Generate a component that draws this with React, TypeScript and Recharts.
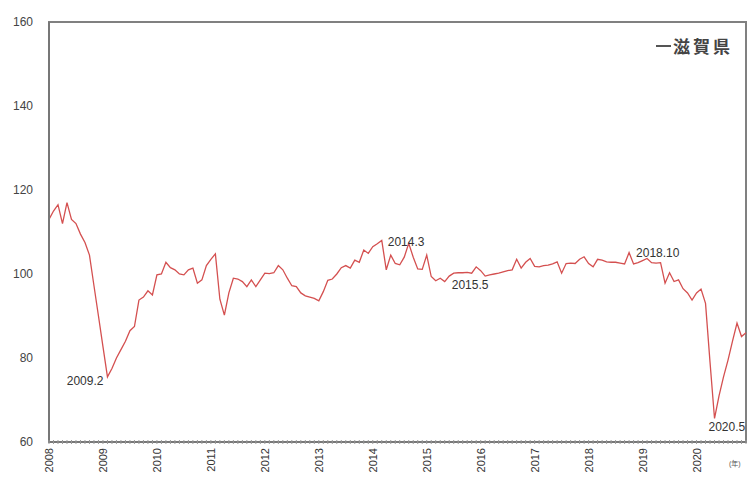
import { LabelList, Line, LineChart, ReferenceArea, XAxis, YAxis } from "recharts";

const years = [2008, 2009, 2010, 2011, 2012, 2013, 2014, 2015, 2016, 2017, 2018, 2019, 2020];

// 滋賀県 monthly index, Jan..Dec
const shiga2008 = [113, 115, 116.5, 112, 117, 113, 112, 109.5, 107.5, 104.5, 97.2, 90];
const shiga2009 = [82.7, 75.5, 77.5, 80, 82, 84, 86.5, 87.5, 93.8, 94.5, 96, 95];
const shiga2010 = [99.8, 100, 102.8, 101.5, 101, 100, 99.8, 101, 101.4, 97.8, 98.6, 102];
const shiga2011 = [103.5, 104.8, 94, 90.2, 95.5, 99, 98.8, 98.2, 97, 98.6, 97, 98.6];
const shiga2012 = [100.2, 100.1, 100.3, 102, 101, 99, 97.2, 97, 95.5, 94.8, 94.5, 94.2];
const shiga2013 = [93.6, 95.8, 98.5, 98.8, 100, 101.5, 102, 101.4, 103.3, 102.8, 105.7, 104.9];
const shiga2014 = [106.5, 107.2, 108, 101, 104.5, 102.5, 102.2, 104, 107.3, 104, 101.2, 101.1];
const shiga2015 = [104.5, 99.4, 98.4, 99, 98.2, 99.5, 100.2, 100.3, 100.3, 100.4, 100.2, 101.7];
const shiga2016 = [100.8, 99.5, 99.8, 100, 100.2, 100.5, 100.8, 101, 103.5, 101.4, 102.8, 103.7];
const shiga2017 = [101.8, 101.7, 102, 102.1, 102.4, 102.9, 100.2, 102.5, 102.6, 102.5, 103.5, 104.1];
const shiga2018 = [102.5, 101.7, 103.5, 103.3, 102.9, 102.8, 102.8, 102.6, 102.4, 105.1, 102.4, 102.7];
const shiga2019 = [103.2, 103.7, 102.7, 102.6, 102.7, 97.8, 100.3, 98.2, 98.6, 96.5, 95.5, 93.8];
const shiga2020 = [95.5, 96.4, 93, 79, 65.6, 71, 75.5, 79.5, 84, 88.3, 85.1, 86];

const shigaByYear = [
  shiga2008, shiga2009, shiga2010, shiga2011, shiga2012, shiga2013, shiga2014,
  shiga2015, shiga2016, shiga2017, shiga2018, shiga2019, shiga2020,
];

const yTicks = [60, 80, 100, 120, 140, 160];
const markedMonths = ["2009.2", "2014.3", "2015.5", "2018.10", "2020.5"];

const data = years.flatMap((yr, yi) =>
  shigaByYear[yi].map((v, m) => ({ month: `${yr}.${m + 1}`, value: v }))
);

const FONT = '"Liberation Sans", Arial, "Noto Sans CJK JP", sans-serif';

const placement: Record<string, { anchor: "start" | "end"; dx: number; dy: number }> = {
  "2009.2": { anchor: "end", dx: -4, dy: 4 },
  "2014.3": { anchor: "start", dx: 6, dy: 2 },
  "2015.5": { anchor: "start", dx: 7, dy: 3 },
  "2018.10": { anchor: "start", dx: 7, dy: 0 },
  "2020.5": { anchor: "start", dx: -6, dy: 9 },
};

function MonthTick(props: any) {
  const { x, y, payload } = props;
  const [yr, mo] = String(payload.value).split(".");
  return (
    <g>
      <line x1={x} x2={x} y1={y - 2} y2={y + 2} stroke="#999" strokeWidth={1} />
      {mo === "1" && (
        <text
          transform={`translate(${x},${y + 6}) rotate(-90)`}
          textAnchor="end"
          dominantBaseline="central"
          fontSize={11}
          fontFamily={FONT}
          fill="#333"
        >
          {yr}
        </text>
      )}
    </g>
  );
}

function PeakLabel(props: any) {
  const { x, y, value } = props;
  const p = placement[String(value)];
  if (!p || !markedMonths.includes(String(value))) return null;
  return (
    <text
      x={x + p.dx}
      y={y + p.dy}
      textAnchor={p.anchor}
      dominantBaseline="central"
      fontSize={12}
      fontFamily={FONT}
      fill="#333"
    >
      {value}
    </text>
  );
}

export default function App() {
  return (
    <div style={{ position: "absolute", left: 0, top: 0, width: 750, height: 479, background: "#fff" }}>
      <LineChart width={750} height={479} data={data} margin={{ top: 22, right: 4, bottom: 0, left: 0 }}>
        <ReferenceArea y1={60} y2={160} fill="none" stroke="#808080" strokeWidth={2} />
        <XAxis
          dataKey="month"
          interval={0}
          height={37}
          tickSize={0}
          tickMargin={0}
          tickLine={false}
          tick={<MonthTick />}
          axisLine={{ stroke: "#777", strokeWidth: 2 }}
        />
        <YAxis
          type="number"
          domain={[60, 160]}
          ticks={yTicks}
          width={49}
          tickSize={0}
          tickMargin={16}
          tickLine={false}
          axisLine={{ stroke: "#777", strokeWidth: 2 }}
          tick={{ fontSize: 12, fill: "#444", fontFamily: FONT }}
        />
        <Line
          type="linear"
          dataKey="value"
          stroke="#d45050"
          strokeWidth={1.3}
          dot={false}
          isAnimationActive={false}
        >
          <LabelList dataKey="month" content={<PeakLabel />} />
        </Line>
      </LineChart>
      <div
        style={{
          position: "absolute",
          left: 656,
          top: 33,
          display: "flex",
          alignItems: "center",
          fontFamily: '"Noto Sans CJK JP", sans-serif',
          fontWeight: 700,
          fontSize: 17,
          color: "#444",
          letterSpacing: 3,
        }}
      >
        <span style={{ display: "inline-block", width: 15, height: 2, background: "#555", marginRight: 2 }} />
        滋賀県
      </div>
      <div
        style={{
          position: "absolute",
          left: 729,
          top: 458,
          fontFamily: FONT,
          fontSize: 7,
          color: "#555",
        }}
      >
        (年)
      </div>
    </div>
  );
}
